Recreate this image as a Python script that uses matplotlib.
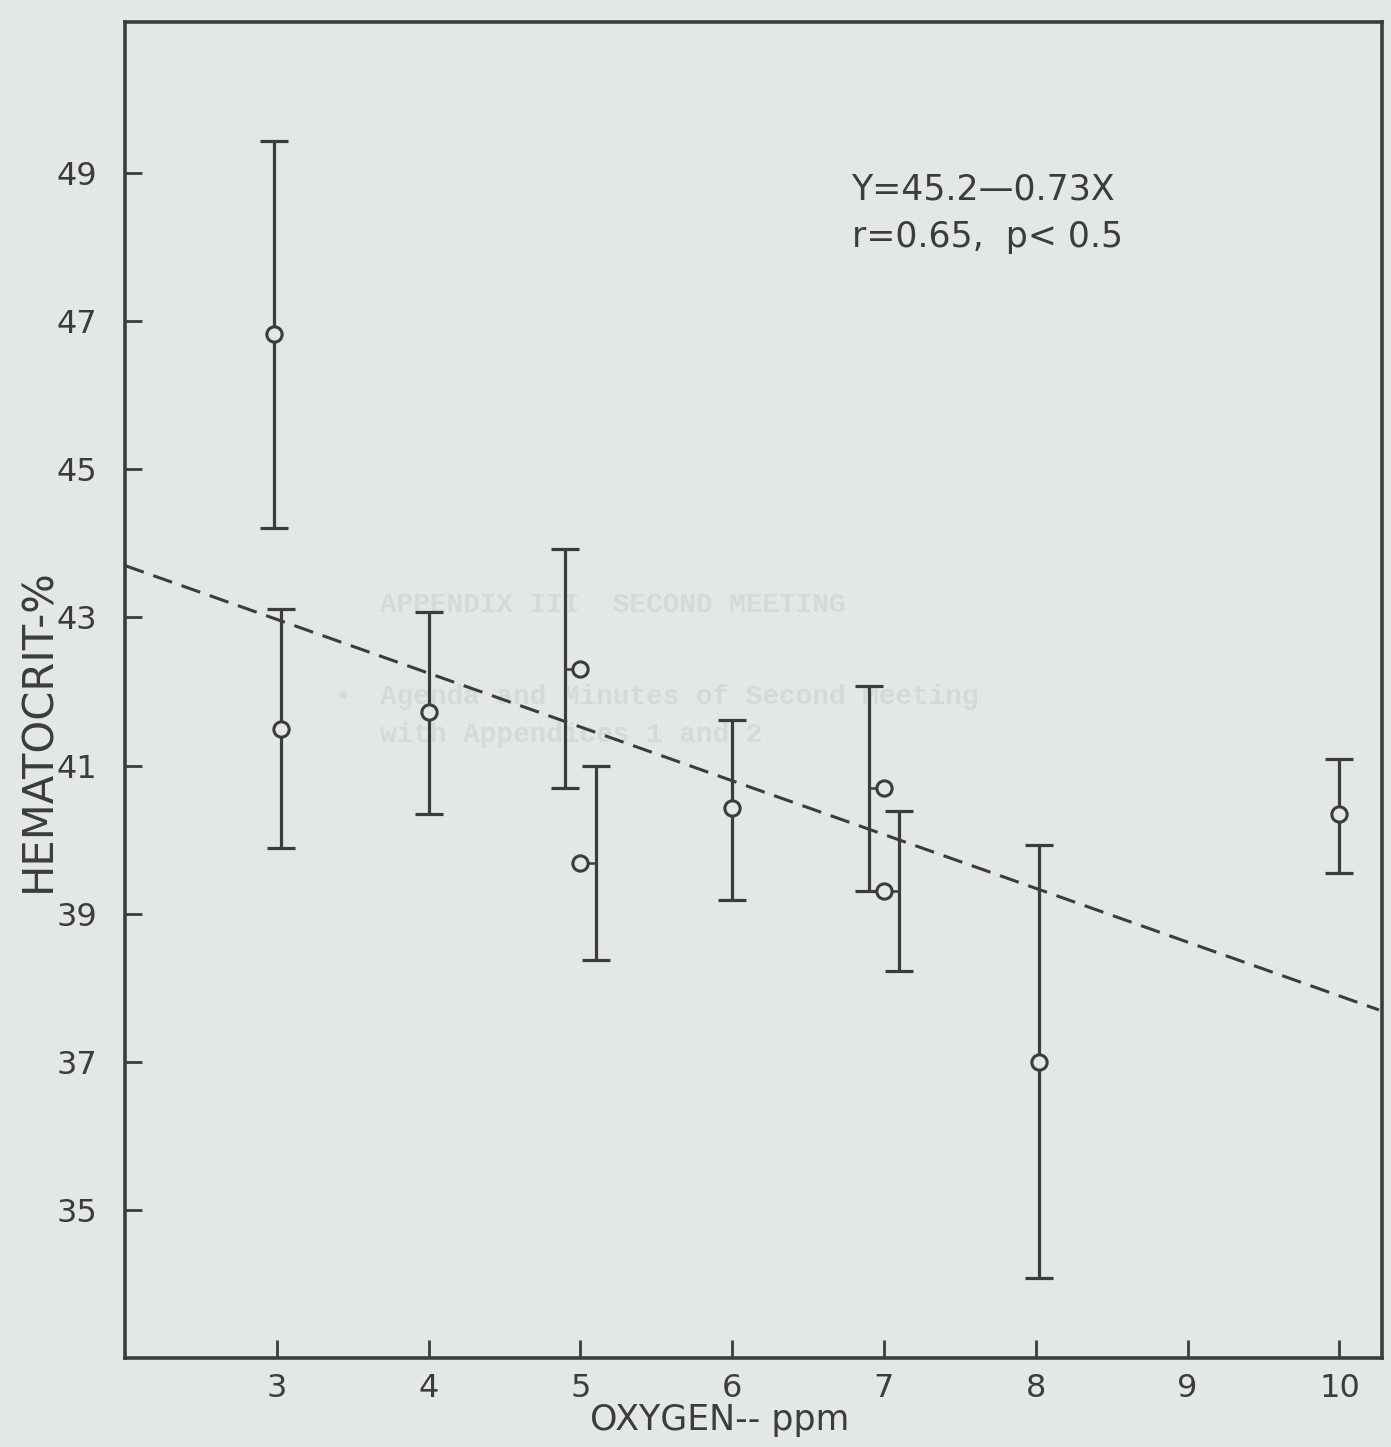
import matplotlib.pyplot as plt
import numpy as np

# readings
bar_x = [2.98, 3.03, 4.0, 4.9, 5.1, 6.0, 6.9, 7.1, 8.02, 10.0]
mean_x = [2.98, 3.03, 4.0, 5.0, 5.0, 6.0, 7.0, 7.0, 8.02, 10.0]
mean_y = [46.83, 41.49, 41.72, 42.30, 39.69, 40.42, 40.70, 39.31, 37.0, 40.34]
upper = [49.43, 43.12, 43.07, 43.93, 40.99, 41.62, 42.07, 40.39, 39.93, 41.09]
lower = [44.21, 39.88, 40.34, 40.69, 38.38, 39.19, 39.31, 38.22, 34.08, 39.55]

# regression line endpoints
line_x = [2.0, 10.26]
line_y = [43.7, 37.7]

xticks = [3, 4, 5, 6, 7, 8, 9, 10]
yticks = [35, 37, 39, 41, 43, 45, 47, 49]

bg = '#e4e7e7'
ink = '#3c3c3c'

fig = plt.figure(figsize=(13.91, 14.47), dpi=100, facecolor=bg)
W, H = 1391, 1447
ax = fig.add_axes([125 / W, 1 - 1358 / H, (1382 - 125) / W, (1358 - 22) / H])
ax.set_facecolor('none')

# faint bleed-through from the page behind
ghost = '#d6d9da'
ghost_lines = [(380, 612, 'APPENDIX III  SECOND MEETING'),
               (335, 704, '\u2022'),
               (380, 704, 'Agenda and Minutes of Second Meeting'),
               (380, 742, 'with Appendices 1 and 2')]
for gx, gy, gt in ghost_lines:
    ax.text(gx / W, 1 - gy / H, gt, transform=fig.transFigure, fontsize=20,
            family='Liberation Mono', fontweight='bold', color=ghost, zorder=0.5)

up = np.array(upper)
lo = np.array(lower)
mid = (up + lo) / 2
ax.errorbar(bar_x, mid, yerr=[mid - lo, up - mid], fmt='none', ecolor=ink,
            elinewidth=2.3, capsize=10, capthick=2.3, zorder=3)
ax.hlines(mean_y, bar_x, mean_x, color=ink, lw=1.8, zorder=3)
ax.plot(mean_x, mean_y, 'o', mfc=bg, mec=ink, ms=11, mew=2.2, zorder=4)

ax.plot(line_x, line_y, color=ink, lw=2.2, ls=(0, (6.5, 3.3)), zorder=2)

ax.set_xlim(2.0, 10.28)
ax.set_ylim(33.0, 51.04)
ax.set_xticks(xticks)
ax.set_yticks(yticks)
ax.tick_params(axis='both', direction='in', colors=ink, width=2, labelsize=23)
ax.tick_params(axis='x', length=13, pad=11)
ax.tick_params(axis='y', length=12, pad=20)
for s in ax.spines.values():
    s.set_linewidth(2.6)
    s.set_color(ink)

ax.set_ylabel('HEMATOCRIT-%', fontsize=30, color=ink)
ax.yaxis.set_label_coords(-0.052, 0.47)
ax.set_xlabel('OXYGEN-- ppm', fontsize=25, color=ink)
ax.xaxis.set_label_coords(0.473, -0.034)

ax.text(0.578, 0.867, 'Y=45.2\u20140.73X', transform=ax.transAxes,
        fontsize=25, color=ink, va='baseline')
ax.text(0.578, 0.8316, 'r=0.65,  p< 0.5', transform=ax.transAxes,
        fontsize=25, color=ink, va='baseline')

fig.savefig('out.png', dpi=100, facecolor=bg)
